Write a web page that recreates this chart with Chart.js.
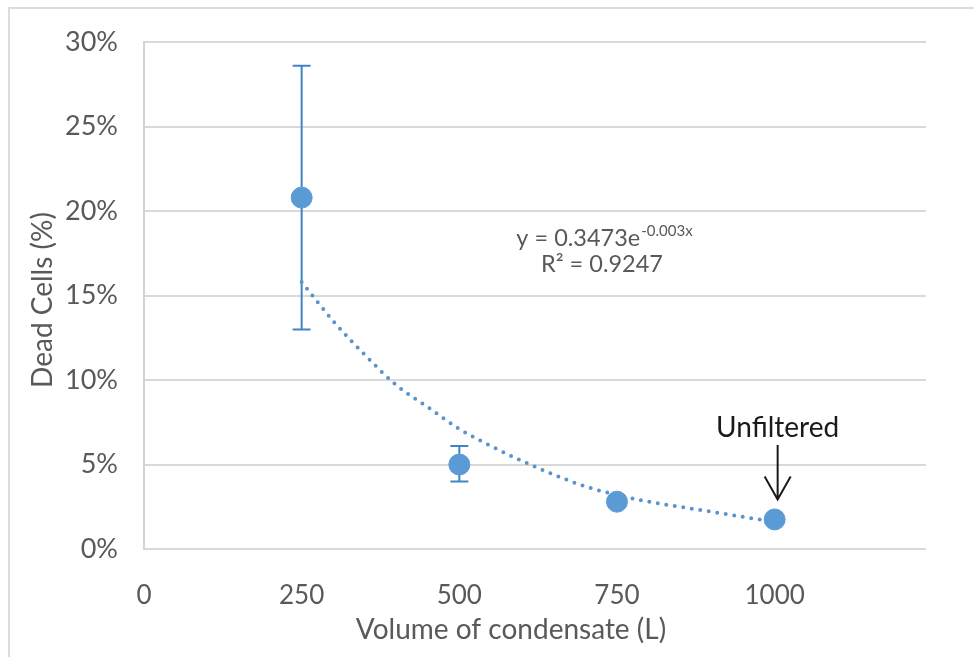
<!DOCTYPE html>
<html>
<head>
<meta charset="utf-8">
<script src="https://cdn.jsdelivr.net/npm/chart.js@4.4.1/dist/chart.umd.min.js"></script>
<style>
  html, body { margin: 0; padding: 0; background: #fff; }
  #wrap { position: relative; width: 974px; height: 657px; overflow: hidden; }
  #frame { position: absolute; left: 8px; top: 7px; width: 990px; height: 670px;
           border-left: 2px solid #dcdcdc; border-top: 2px solid #dcdcdc; }
  canvas { position: absolute; left: 0; top: 0; }
</style>
</head>
<body>
<div id="wrap">
  <div id="frame"></div>
  <canvas id="chart" width="974" height="657"></canvas>
</div>
<script>
// measured points (volume in L, dead cells in %)
const volumes = [250, 500, 750, 1000];
const deadCells = [20.8, 5.0, 2.8, 1.75];
const errLow = [13.0, 4.0, null, null];
const errHigh = [28.6, 6.1, null, null];

// exponential trendline
const trendVolumes = [250, 300, 350, 400, 450, 500, 550, 600, 650, 700, 750, 800, 850, 900, 950, 1000];
const trendCells = [15.8, 13.5, 11.5, 9.7, 8.4, 7.1, 6.1, 5.2, 4.4, 3.7, 3.2, 2.8, 2.5, 2.2, 1.9, 1.6];

const xTickValues = [0, 250, 500, 750, 1000];
const yTickValues = [0, 5, 10, 15, 20, 25, 30];

const xTitle = 'Volume of condensate (L)';
const yTitle = 'Dead Cells (%)';
const equationMain = 'y = 0.3473e';
const equationExp = '-0.003x';
const rSquared = 'R² = 0.9247';
const unfilteredLabel = 'Unfiltered';

const FONT = 'Lato, "Open Sans", sans-serif';
const GREY_TEXT = '#595959';
const BLUE = '#5b9bd5';

// error bars under the markers
const errorBars = {
  id: 'errorBars',
  beforeDatasetsDraw(chart) {
    const { ctx, scales: { x, y } } = chart;
    ctx.save();
    ctx.strokeStyle = '#3d85c6';
    ctx.lineWidth = 2;
    volumes.forEach((v, i) => {
      if (errLow[i] == null) return;
      const px = x.getPixelForValue(v);
      const top = y.getPixelForValue(errHigh[i]);
      const bot = y.getPixelForValue(errLow[i]);
      ctx.beginPath();
      ctx.moveTo(px, top); ctx.lineTo(px, bot);
      ctx.moveTo(px - 9, top); ctx.lineTo(px + 9, top);
      ctx.moveTo(px - 9, bot); ctx.lineTo(px + 9, bot);
      ctx.stroke();
    });
    ctx.restore();
  }
};

// axis titles, trendline equation and the "Unfiltered" arrow
const annotations = {
  id: 'annotations',
  afterDraw(chart) {
    const { ctx, scales: { x, y } } = chart;
    ctx.save();
    ctx.fillStyle = GREY_TEXT;
    ctx.textAlign = 'center';
    ctx.textBaseline = 'middle';

    ctx.font = '28px ' + FONT;
    ctx.fillText(xTitle, 511, 630);

    ctx.save();
    ctx.translate(43, 300);
    ctx.rotate(-Math.PI / 2);
    ctx.fillText(yTitle, 0, 0);
    ctx.restore();

    // equation
    ctx.font = '23.5px ' + FONT;
    const mainW = ctx.measureText(equationMain).width;
    ctx.font = '15px ' + FONT;
    const expW = ctx.measureText(equationExp).width;
    const startX = 604 - (mainW + expW) / 2;
    ctx.textAlign = 'left';
    ctx.textBaseline = 'alphabetic';
    ctx.font = '23.5px ' + FONT;
    ctx.fillText(equationMain, startX, 246);
    ctx.font = '15px ' + FONT;
    ctx.fillText(equationExp, startX + mainW + 1, 236);
    ctx.font = '23.5px ' + FONT;
    ctx.textAlign = 'center';
    ctx.fillText(rSquared, 602, 272);

    // arrow pointing at the unfiltered sample
    const ax = x.getPixelForValue(volumes[3]) + 3;
    const tip = y.getPixelForValue(deadCells[3]) - 20;
    ctx.fillStyle = '#1a1a1a';
    ctx.font = '28px ' + FONT;
    ctx.textBaseline = 'middle';
    ctx.fillText(unfilteredLabel, ax, 428);
    ctx.strokeStyle = '#1a1a1a';
    ctx.lineWidth = 2;
    ctx.beginPath();
    ctx.moveTo(ax, 445); ctx.lineTo(ax, tip);
    ctx.moveTo(ax - 13, tip - 23); ctx.lineTo(ax, tip); ctx.lineTo(ax + 13, tip - 23);
    ctx.stroke();
    ctx.restore();
  }
};

new Chart(document.getElementById('chart').getContext('2d'), {
  type: 'scatter',
  data: {
    datasets: [
      {
        label: 'Dead cells',
        data: volumes.map((v, i) => ({ x: v, y: deadCells[i] })),
        backgroundColor: BLUE,
        borderColor: BLUE,
        pointRadius: 10.5,
        pointHoverRadius: 10.5,
        order: 0
      },
      {
        label: 'Expon. trend',
        data: trendVolumes.map((v, i) => ({ x: v, y: trendCells[i] })),
        showLine: true,
        borderColor: '#5b93cf',
        borderWidth: 4,
        borderDash: [0, 8.6],
        borderCapStyle: 'round',
        cubicInterpolationMode: 'monotone',
        pointRadius: 0,
        order: 1
      }
    ]
  },
  options: {
    responsive: false,
    animation: false,
    devicePixelRatio: 1,
    layout: { padding: { left: 0, top: 36, right: 48, bottom: 0 } },
    plugins: { legend: { display: false }, tooltip: { enabled: false } },
    scales: {
      x: {
        type: 'linear',
        min: 0,
        max: 1240,
        afterBuildTicks: (s) => { s.ticks = xTickValues.map(v => ({ value: v })); },
        afterFit: (s) => { s.height = 108; },
        grid: { display: false },
        border: { display: false },
        ticks: { color: GREY_TEXT, font: { family: FONT, size: 26 }, padding: 23, maxRotation: 0,
                 callback: (v) => String(v) }
      },
      y: {
        min: 0,
        max: 30,
        afterBuildTicks: (s) => { s.ticks = yTickValues.map(v => ({ value: v })); },
        afterFit: (s) => { s.width = 144; },
        grid: { color: '#d9d9d9', lineWidth: 2, drawTicks: false },
        border: { color: '#d4d4d4', width: 2 },
        ticks: { color: GREY_TEXT, font: { family: FONT, size: 27 }, padding: 26,
                 callback: (v) => v + '%' }
      }
    }
  },
  plugins: [errorBars, annotations]
});
</script>
</body>
</html>
